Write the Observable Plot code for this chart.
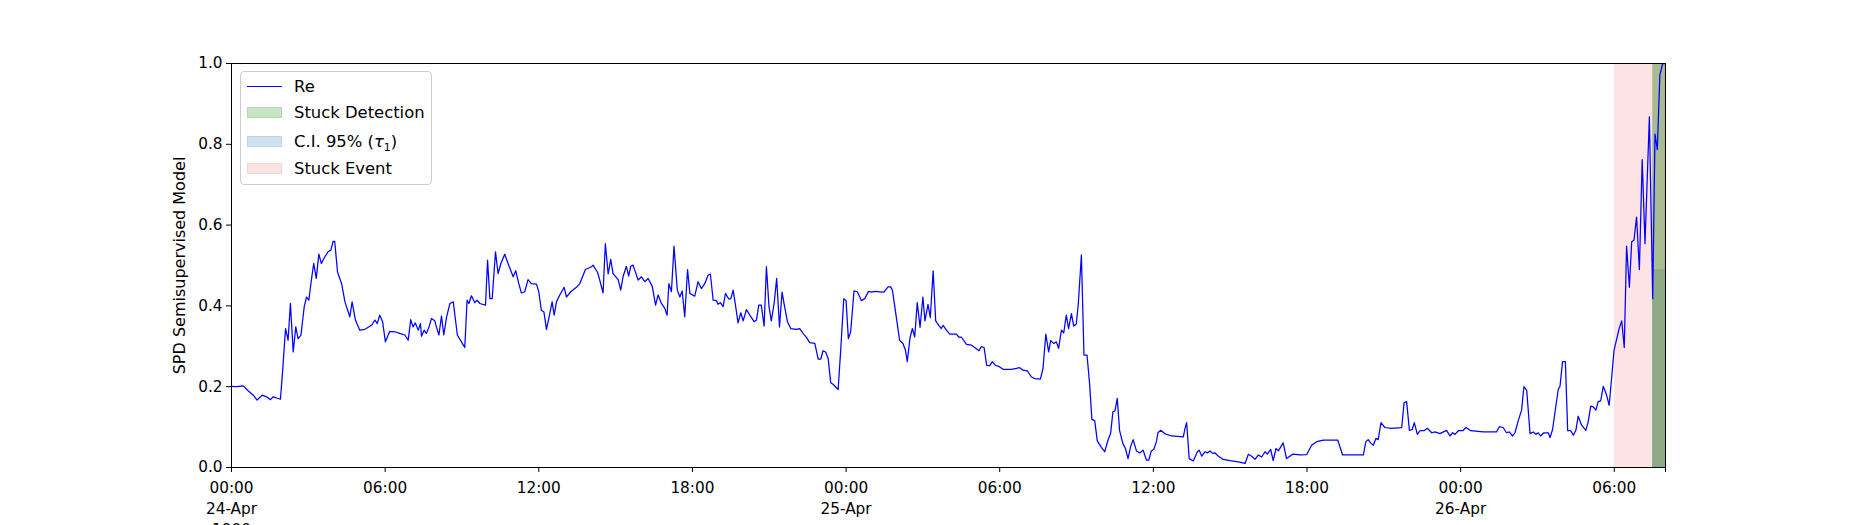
<!DOCTYPE html>
<html>
<head>
<meta charset="utf-8">
<script src="https://cdn.jsdelivr.net/npm/d3@7"></script>
<script src="https://cdn.jsdelivr.net/npm/@observablehq/plot@0.6"></script>
<style>
  html, body { margin: 0; padding: 0; background: #fff; }
  #wrap { position: relative; width: 1850px; height: 525px; overflow: hidden; font-family: "DejaVu Sans", sans-serif; }
  #legend { position: absolute; left: 240px; top: 71px; width: 190px; height: 112px; border: 1px solid #cccccc; border-radius: 4px; background: rgba(255,255,255,0.8); font-size: 16.4px; color: #000; }
  .row { position: absolute; left: 0; height: 20px; width: 100%; }
  .handle { position: absolute; left: 6px; width: 35px; }
  .label { position: absolute; left: 53px; top: 0; line-height: 20px; white-space: nowrap; }
</style>
</head>
<body>
<div id="wrap">
  <div id="chart"></div>
  <div id="legend"></div>
</div>
<script>
// ---- data (hours since 24-Apr-1900 00:00, Re score) ----
const hours = [
  0,0.2,0.46,0.65,0.85,1.0,1.2,1.37,1.52,1.63,1.76,1.91,1.99,2.11,2.21,2.30,2.41,2.51,2.60,2.71,2.84,2.93,3.02,3.12,3.21,3.31,3.41,3.51,3.64,3.77,3.88,3.97,4.03,4.14,4.30,4.43,4.62,4.71,4.84,5.01,5.21,5.47,5.60,5.69,5.79,5.90,6.01,6.18,6.38,6.57,6.77,6.90,7.00,7.09,7.18,7.29,7.38,7.42,7.52,7.61,7.71,7.81,7.94,8.00,8.10,8.20,8.29,8.40,8.53,8.66,8.82,8.98,9.11,9.20,9.27,9.37,9.50,9.59,9.70,9.92,10.0,10.09,10.18,10.31,10.41,10.52,10.67,10.80,11.0,11.10,11.22,11.32,11.45,11.58,11.71,11.91,12.0,12.10,12.20,12.30,12.43,12.52,12.60,12.69,12.82,12.99,13.08,13.25,13.47,13.60,13.82,14.06,14.12,14.29,14.38,14.51,14.60,14.71,14.81,14.90,15.10,15.20,15.29,15.42,15.51,15.59,15.68,15.88,16.01,16.14,16.27,16.43,16.56,16.66,16.79,16.92,17.01,17.08,17.18,17.28,17.41,17.51,17.60,17.70,17.81,17.90,18.09,18.22,18.35,
  18.48,18.61,18.70,18.81,18.94,19.0,19.09,19.20,19.29,19.42,19.50,19.59,19.69,19.78,19.89,19.98,20.11,20.24,20.41,20.50,20.59,20.69,20.80,20.89,20.99,21.08,21.19,21.29,21.40,21.50,21.60,21.71,21.84,22.06,22.19,22.32,22.45,22.58,22.78,22.91,23.01,23.10,23.20,23.30,23.40,23.49,23.69,23.79,23.91,24.0,24.09,24.18,24.31,24.44,24.60,24.73,24.88,24.99,25.12,25.31,25.48,25.64,25.74,25.81,25.96,26.09,26.22,26.32,26.39,26.50,26.59,26.68,26.78,26.89,27.0,27.08,27.20,27.29,27.40,27.50,27.62,27.72,27.79,27.92,28.05,28.31,28.40,28.50,28.70,28.89,29.02,29.19,29.28,29.39,29.49,29.61,29.71,29.83,30.0,30.13,30.45,30.78,30.91,31.08,31.24,31.37,31.59,31.69,31.80,31.91,31.99,32.11,32.21,32.30,32.41,32.50,32.60,32.69,32.80,32.89,32.99,33.07,33.19,33.29,33.41,33.51,33.60,33.71,33.81,33.97,34.10,34.23,34.33,34.42,34.50,34.59,34.68,34.81,34.91,35.01,35.11,35.21,35.34,35.47,35.60,35.73,35.82,35.92,36.02,36.12,36.18,36.29,36.44,36.70,37.17,
  37.23,37.30,37.40,37.56,37.72,37.79,37.89,38.02,38.11,38.21,38.32,38.41,38.54,38.73,38.99,39.32,39.58,39.71,39.84,39.97,40.10,40.23,40.36,40.45,40.58,40.68,40.79,40.88,41.07,41.20,41.33,41.44,41.73,41.99,42.18,42.38,42.64,43.20,43.39,44.07,44.20,44.30,44.39,44.48,44.59,44.69,44.78,44.89,45.04,45.30,45.70,45.79,45.89,46.0,46.11,46.19,46.31,46.41,46.57,46.70,46.87,47.0,47.19,47.45,47.58,47.69,47.78,47.91,48.08,48.21,48.39,48.88,49.40,49.51,49.66,49.79,49.90,50.03,50.12,50.25,50.38,50.47,50.58,50.71,50.84,50.94,51.03,51.12,51.25,51.42,51.49,51.59,51.81,51.88,51.98,52.09,52.18,52.30,52.40,52.50,52.59,52.72,52.89,52.98,53.08,53.18,53.28,53.37,53.47,53.57,53.70,53.80,53.90,53.99,54.09,54.19,54.29,54.39,54.48,54.59,54.68,54.77,54.87,54.98,55.09,55.20,55.37,55.50,55.59,55.68,55.78,55.89,55.97
];
const re = [
  0.201,0.2,0.202,0.19,0.179,0.167,0.179,0.175,0.168,0.175,0.172,0.169,0.233,0.344,0.315,0.406,0.286,0.348,0.319,0.327,0.398,0.422,0.414,0.464,0.505,0.468,0.528,0.505,0.521,0.534,0.538,0.56,0.56,0.484,0.455,0.41,0.373,0.41,0.365,0.34,0.342,0.352,0.365,0.356,0.377,0.361,0.311,0.337,0.336,0.332,0.328,0.315,0.366,0.348,0.358,0.34,0.356,0.325,0.34,0.332,0.347,0.369,0.363,0.348,0.328,0.375,0.328,0.373,0.406,0.41,0.328,0.311,0.297,0.414,0.406,0.425,0.408,0.414,0.406,0.402,0.513,0.418,0.418,0.534,0.48,0.505,0.528,0.505,0.472,0.487,0.455,0.432,0.435,0.465,0.455,0.454,0.435,0.389,0.385,0.342,0.381,0.41,0.377,0.41,0.427,0.446,0.422,0.435,0.446,0.455,0.49,0.497,0.501,0.484,0.464,0.432,0.554,0.479,0.515,0.48,0.465,0.439,0.472,0.498,0.474,0.498,0.501,0.464,0.472,0.46,0.468,0.449,0.402,0.427,0.406,0.394,0.377,0.455,0.435,0.548,0.439,0.422,0.437,0.373,0.49,0.431,0.424,0.46,0.443,
  0.455,0.476,0.479,0.414,0.413,0.404,0.408,0.398,0.431,0.417,0.418,0.439,0.398,0.358,0.383,0.363,0.391,0.377,0.361,0.365,0.402,0.402,0.35,0.497,0.398,0.363,0.406,0.468,0.348,0.434,0.398,0.361,0.344,0.342,0.344,0.332,0.322,0.309,0.307,0.268,0.268,0.289,0.286,0.27,0.21,0.206,0.193,0.29,0.418,0.413,0.319,0.336,0.437,0.435,0.413,0.418,0.436,0.434,0.436,0.435,0.434,0.447,0.447,0.439,0.373,0.315,0.307,0.29,0.262,0.322,0.344,0.323,0.408,0.347,0.422,0.363,0.404,0.371,0.487,0.363,0.352,0.344,0.352,0.34,0.33,0.33,0.323,0.323,0.305,0.303,0.297,0.289,0.299,0.297,0.253,0.252,0.262,0.253,0.249,0.243,0.243,0.247,0.241,0.239,0.224,0.22,0.219,0.245,0.33,0.286,0.314,0.307,0.311,0.295,0.34,0.333,0.377,0.344,0.381,0.35,0.355,0.406,0.526,0.278,0.278,0.208,0.119,0.116,0.066,0.05,0.039,0.068,0.084,0.138,0.14,0.171,0.092,0.059,0.047,0.022,0.051,0.069,0.041,0.036,0.043,0.018,0.018,0.041,0.045,0.064,0.086,0.092,0.084,0.078,0.076,
  0.095,0.111,0.022,0.016,0.039,0.043,0.028,0.039,0.036,0.041,0.035,0.036,0.028,0.02,0.017,0.014,0.01,0.033,0.028,0.02,0.031,0.026,0.039,0.033,0.045,0.017,0.047,0.041,0.061,0.022,0.028,0.033,0.031,0.032,0.055,0.064,0.068,0.068,0.031,0.031,0.031,0.064,0.069,0.061,0.055,0.072,0.069,0.111,0.099,0.097,0.099,0.16,0.163,0.092,0.094,0.111,0.082,0.091,0.091,0.097,0.086,0.088,0.084,0.092,0.078,0.086,0.082,0.091,0.091,0.099,0.091,0.088,0.088,0.101,0.099,0.086,0.088,0.078,0.086,0.116,0.142,0.2,0.191,0.084,0.088,0.082,0.086,0.078,0.086,0.086,0.074,0.094,0.193,0.201,0.262,0.262,0.091,0.091,0.08,0.092,0.127,0.105,0.092,0.113,0.152,0.15,0.142,0.163,0.165,0.201,0.179,0.154,0.224,0.29,0.317,0.344,0.363,0.297,0.548,0.446,0.559,0.563,0.62,0.49,0.762,0.554,0.868,0.418,0.825,0.787,0.971,1.0,1.0
];

// shaded regions (hours since start)
const stuckEvent = [54, 56];
const stuckDetection = [55.5, 56];
const ciBand = [0, 0.49];

// axis ticks
const xTickHours = [0, 6, 12, 18, 24, 30, 36, 42, 48, 54];
const xTickLabels = ["00:00\n24-Apr\n1900", "06:00", "12:00", "18:00", "00:00\n25-Apr", "06:00", "12:00", "18:00", "00:00\n26-Apr", "06:00"];
const yTicks = [0, 0.2, 0.4, 0.6, 0.8, 1.0];
const yTickLabels = ["0.0", "0.2", "0.4", "0.6", "0.8", "1.0"];
const xDomainHours = [0, 56];

const yLabel = "SPD Semisupervised Model";
const seriesName = "Re";

// ---- build ----
const t0 = Date.UTC(1900, 3, 24, 0, 0, 0);
const toDate = h => new Date(t0 + h * 3600e3);
const data = hours.map((h, i) => ({ t: toDate(h), v: re[i] }));
const xLabelMap = new Map(xTickHours.map((h, i) => [+toDate(h), xTickLabels[i]]));
const yLabelMap = new Map(yTicks.map((v, i) => [v, yTickLabels[i]]));

const regions = [
  { x1: toDate(stuckEvent[0]), x2: toDate(stuckEvent[1]), y1: 0, y2: 1, fill: "#fde3e4" },
  { x1: toDate(stuckDetection[0]), x2: toDate(stuckDetection[1]), y1: 0, y2: 1, fill: "#a9bc91" },
  { x1: toDate(stuckDetection[0]), x2: toDate(stuckDetection[1]), y1: ciBand[0], y2: ciBand[1], fill: "#8eaa87" }
];

const chart = Plot.plot({
  width: 1850,
  height: 525,
  marginLeft: 231,
  marginRight: 185,
  marginTop: 63,
  marginBottom: 58,
  style: { fontFamily: "DejaVu Sans, sans-serif", fontSize: "15.3px", color: "#000", background: "transparent" },
  x: { type: "utc", domain: xDomainHours.map(toDate) },
  y: { domain: [0, 1] },
  marks: [
    Plot.rect(regions, { x1: "x1", x2: "x2", y1: "y1", y2: "y2", fill: d => d.fill }),
    Plot.line(data, { x: "t", y: "v", stroke: "#0000ff", strokeWidth: 1.25 }),
    Plot.frame({ stroke: "#000", strokeWidth: 1 }),
    Plot.axisY({ ticks: yTicks, tickFormat: d => yLabelMap.get(d), tickSize: 5, tickPadding: 4, label: null, fontSize: 15.3 }),
    Plot.axisX({ ticks: xTickHours.map(toDate), tickFormat: d => xLabelMap.get(+d), tickSize: 5, tickPadding: 6, label: null, lineHeight: 1.37, fontSize: 15.3 }),
    Plot.axisX({ ticks: [toDate(xDomainHours[1])], tickFormat: () => "", tickSize: 5, label: null }),
    Plot.text([yLabel], { frameAnchor: "left", dx: -52, rotate: -90, text: d => d, fontSize: 16, textAnchor: "middle", lineAnchor: "middle" })
  ]
});
document.getElementById("chart").appendChild(chart);

// legend
const legendItems = [
  { label: seriesName, type: "line", color: "#0000ff" },
  { label: "Stuck Detection", type: "patch", color: "#c8e4c5", border: "#b3d7ae" },
  { label: "C.I. 95% (<i>τ</i><sub style=\"font-size:11px\">1</sub>)", type: "patch", color: "#d0e1ef", border: "#bcd4e8" },
  { label: "Stuck Event", type: "patch", color: "#fde2e3", border: "#f7d2d4" }
];
const rowCenters = [14.5, 41, 69.5, 96.5];
const legend = document.getElementById("legend");
legendItems.forEach((it, i) => {
  const row = document.createElement("div");
  row.className = "row";
  row.style.top = (rowCenters[i] - 10) + "px";
  const h = document.createElement("div");
  h.className = "handle";
  if (it.type === "line") {
    h.style.top = "9.5px"; h.style.height = "0"; h.style.borderTop = "1.5px solid " + it.color;
  } else {
    h.style.top = "4px"; h.style.height = "11px"; h.style.background = it.color; h.style.border = "1px solid " + it.border; h.style.boxSizing = "border-box";
  }
  const l = document.createElement("div");
  l.className = "label";
  l.innerHTML = it.label;
  row.appendChild(h); row.appendChild(l);
  legend.appendChild(row);
});
</script>
</body>
</html>
